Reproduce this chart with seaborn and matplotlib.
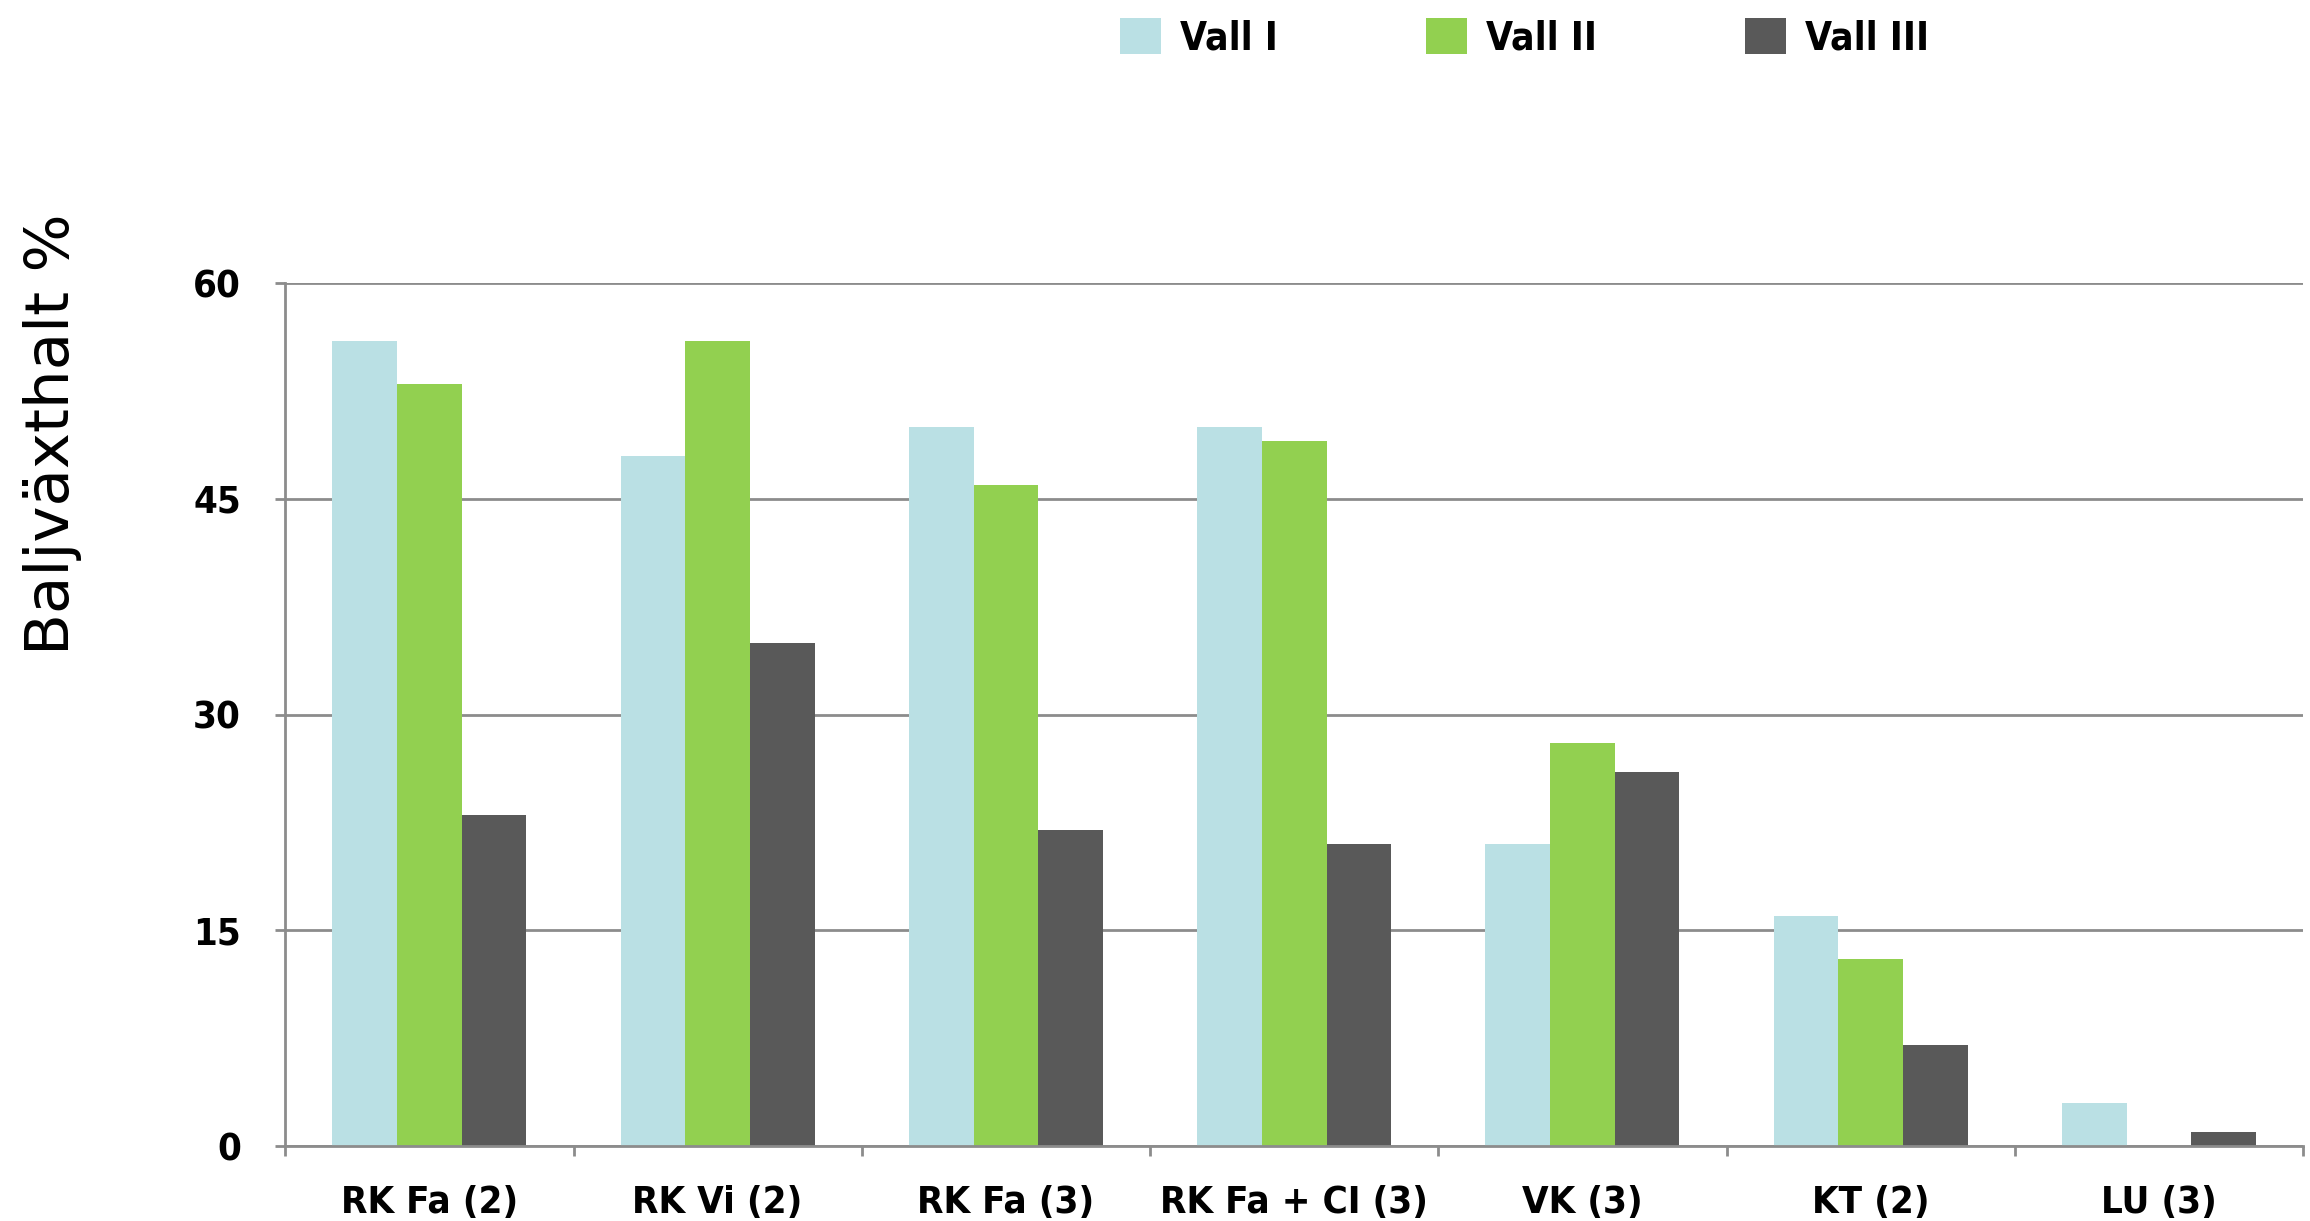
import matplotlib
matplotlib.use("Agg")
import matplotlib.pyplot as plt
import seaborn as sns
import pandas as pd
import numpy as np
from matplotlib.patches import Patch

categories = ["RK Fa (2)", "RK Vi (2)", "RK Fa (3)", "RK Fa + CI (3)", "VK (3)", "KT (2)", "LU (3)"]
series_names = ["Vall I", "Vall II", "Vall III"]
vall_1 = [56, 48, 50, 50, 21, 16, 3]
vall_2 = [53, 56, 46, 49, 28, 13, 0]
vall_3 = [23, 35, 22, 21, 26, 7, 1]
y_ticks = [0, 15, 30, 45, 60]
y_label = "Baljväxthalt %"
colors = ["#BAE0E4", "#92D050", "#595959"]

rows = []
for name, vals in zip(series_names, [vall_1, vall_2, vall_3]):
    for c, v in zip(categories, vals):
        rows.append({"category": c, "series": name, "value": v})
df = pd.DataFrame(rows)

sns.set_theme(style="white")
plt.rcParams["font.family"] = ["DejaVu Sans"]

fig = plt.figure(figsize=(23.1, 12.21), dpi=100)
ax = fig.add_axes([0.1235, 0.0614, 0.8735, 0.7066])

sns.barplot(data=df, x="category", y="value", hue="series", order=categories,
            hue_order=series_names, palette=colors, width=0.673, gap=0,
            saturation=1, linewidth=0, ax=ax, legend=False, errorbar=None)

ax.set_ylim(0, 60)
ax.set_xlim(-0.5, len(categories) - 0.5)
ax.set_yticks(y_ticks)
ax.yaxis.grid(True, color="#8C8C8C", linewidth=2.0)
ax.set_axisbelow(True)
for s in ["top", "right"]:
    ax.spines[s].set_visible(False)
for s in ["left", "bottom"]:
    ax.spines[s].set_color("#8C8C8C")
    ax.spines[s].set_linewidth(2.0)

ax.set_xlabel("")
ax.set_ylabel("")
ax.set_xticks(range(len(categories)))
ax.set_xticklabels(categories)
ax.set_xticks(np.arange(-0.5, len(categories), 1.0), minor=True)
ax.tick_params(axis="x", which="major", length=0, pad=28, labelsize=27.5)
ax.tick_params(axis="x", which="minor", length=7, width=2, color="#8C8C8C", direction="out", bottom=True)
ax.tick_params(axis="y", which="major", length=7, width=2, color="#8C8C8C", direction="out", left=True, pad=25, labelsize=27.5)
for lab in ax.get_xticklabels() + ax.get_yticklabels():
    lab.set_fontweight("heavy")
    lab.set_fontstretch("condensed")
    lab.set_color("black")

fig.text(0.0229, 0.644, y_label, rotation=90, ha="center", va="center", fontsize=44, color="black")

handles = [Patch(facecolor=c, edgecolor="none") for c in colors]
leg = fig.legend(handles, series_names, loc="center left", bbox_to_anchor=(0.4848, 0.969),
                 ncol=3, frameon=False, borderpad=0, borderaxespad=0,
                 handlelength=1.05, handleheight=1.05, handletextpad=0.5, columnspacing=3.8,
                 prop={"weight": "heavy", "size": 28, "stretch": "condensed"})
for t in leg.get_texts():
    t.set_color("black")

fig.savefig("out.png", dpi=100)
